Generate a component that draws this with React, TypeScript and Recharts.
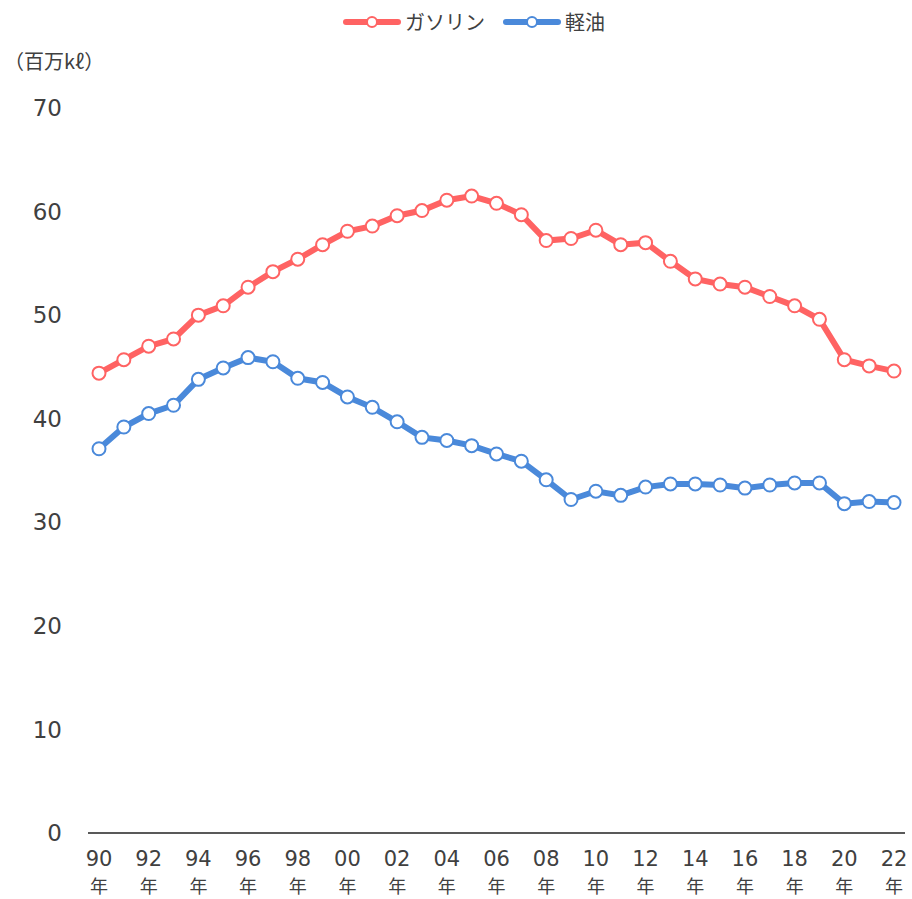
import { LineChart, Line, XAxis, YAxis } from 'recharts';

// fiscal years (1990 - 2022), shown as two-digit labels
const years = [
  '90', '91', '92', '93', '94', '95', '96', '97', '98', '99',
  '00', '01', '02', '03', '04', '05', '06', '07', '08', '09',
  '10', '11', '12', '13', '14', '15', '16', '17', '18', '19',
  '20', '21', '22',
];

// 百万kℓ
const gasoline = [
  44.4, 45.7, 47.0, 47.7, 50.0, 50.9, 52.7, 54.2, 55.4, 56.8,
  58.1, 58.6, 59.6, 60.1, 61.1, 61.5, 60.8, 59.7, 57.2, 57.4,
  58.2, 56.8, 57.0, 55.2, 53.5, 53.0, 52.7, 51.8, 50.9, 49.6,
  45.7, 45.1, 44.6,
];

const diesel = [
  37.1, 39.2, 40.5, 41.3, 43.8, 44.9, 45.9, 45.5, 43.9, 43.5,
  42.1, 41.1, 39.7, 38.2, 37.9, 37.4, 36.6, 35.9, 34.1, 32.2,
  33.0, 32.6, 33.4, 33.7, 33.7, 33.6, 33.3, 33.6, 33.8, 33.8,
  31.8, 32.0, 31.9,
];

const yTicks = [0, 10, 20, 30, 40, 50, 60, 70];

const seriesNames = ['ガソリン', '軽油'];
const seriesColors = ['#FF6363', '#4A89DA'];

const FONT = '"Noto Sans CJK JP", "Noto Sans", sans-serif';
const NUM_FONT = '"DejaVu Sans", "Noto Sans", sans-serif';

const chartData = years.map((y, i) => ({
  year: y,
  gasoline: gasoline[i],
  diesel: diesel[i],
}));

// two-line tick: "90" / "年", drawn as two separate texts
const YearTick = ({ x, y, payload }: any) => (
  <g>
    <text x={x} y={y + 21} textAnchor="middle" fill="#404040" fontSize={21} fontFamily={NUM_FONT}>
      {payload.value}
    </text>
    <text x={x} y={y + 48} textAnchor="middle" fill="#404040" fontSize={18} fontFamily={FONT}>
      年
    </text>
  </g>
);

const LegendItem = ({ name, color }: { name: string; color: string }) => (
  <div style={{ display: 'flex', alignItems: 'center', marginRight: 18 }}>
    <svg width={58} height={14} style={{ marginRight: 4 }}>
      <line x1={3} y1={7} x2={55} y2={7} stroke={color} strokeWidth={6} strokeLinecap="round" />
      <circle cx={29} cy={7} r={5} fill="#fff" stroke={color} strokeWidth={2} />
    </svg>
    <span>{name}</span>
  </div>
);

const App = () => {
  return (
    <div
      style={{
        position: 'absolute',
        left: 0,
        top: 0,
        width: 912,
        height: 899,
        background: '#fff',
        fontFamily: FONT,
        color: '#404040',
      }}
    >
      {/* legend */}
      <div
        style={{
          position: 'absolute',
          top: 8,
          left: 343,
          display: 'flex',
          fontSize: 20,
          lineHeight: '28px',
        }}
      >
        <LegendItem name={seriesNames[0]} color={seriesColors[0]} />
        <LegendItem name={seriesNames[1]} color={seriesColors[1]} />
      </div>

      {/* unit label */}
      <div style={{ position: 'absolute', top: 47, left: 4, fontSize: 20, lineHeight: '28px' }}>
        （百万kℓ）
      </div>

      <LineChart
        width={912}
        height={899}
        data={chartData}
        margin={{ top: 108, right: 7, bottom: 0, left: 0 }}
      >
        <XAxis
          dataKey="year"
          height={66}
          interval={1}
          padding={{ left: 11, right: 11 }}
          tickLine={false}
          tickSize={0}
          tickMargin={12}
          stroke="#595959"
          strokeWidth={2}
          tick={<YearTick />}
        />
        <YAxis
          width={88}
          domain={[0, 70]}
          ticks={yTicks}
          axisLine={false}
          tickLine={false}
          tickSize={0}
          tickMargin={26}
          tick={{ fill: '#404040', fontSize: 23, fontFamily: NUM_FONT }}
        />
        <Line
          dataKey="gasoline"
          name={seriesNames[0]}
          stroke={seriesColors[0]}
          strokeWidth={6}
          dot={{ r: 6.5, fill: '#fff', stroke: seriesColors[0], strokeWidth: 2 }}
          isAnimationActive={false}
        />
        <Line
          dataKey="diesel"
          name={seriesNames[1]}
          stroke={seriesColors[1]}
          strokeWidth={6}
          dot={{ r: 6.5, fill: '#fff', stroke: seriesColors[1], strokeWidth: 2 }}
          isAnimationActive={false}
        />
      </LineChart>
    </div>
  );
};

export default App;
